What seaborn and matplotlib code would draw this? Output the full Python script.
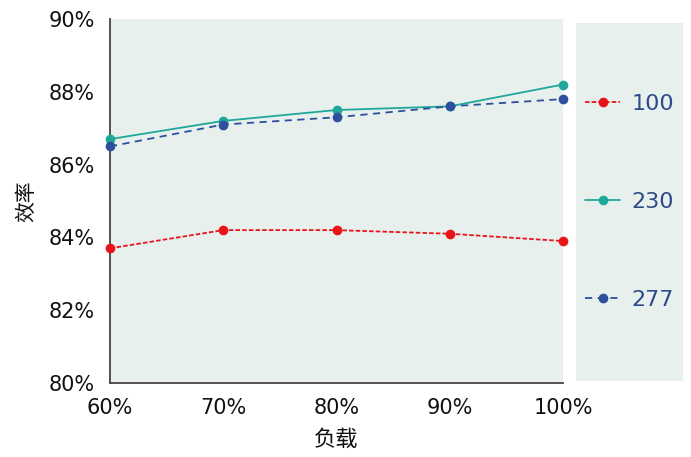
import matplotlib
matplotlib.use("Agg")
import matplotlib.pyplot as plt
import seaborn as sns
import pandas as pd
from matplotlib.lines import Line2D

# Data
loads = [60, 70, 80, 90, 100]
load_labels = ["60%", "70%", "80%", "90%", "100%"]
eff_100 = [83.7, 84.2, 84.2, 84.1, 83.9]
eff_230 = [86.7, 87.2, 87.5, 87.6, 88.2]
eff_277 = [86.5, 87.1, 87.3, 87.6, 87.8]
series_names = ["100", "230", "277"]
y_ticks = [80, 82, 84, 86, 88, 90]
y_tick_labels = ["80%", "82%", "84%", "86%", "88%", "90%"]

sns.set_theme(style="white")
plt.rcParams['font.family'] = ['DejaVu Sans', 'Noto Sans CJK SC']

bg = "#e8f0ed"
colors = {"100": "#e8141a", "230": "#1fa89a", "277": "#2d4f9e"}
styles = {"100": (0, (2.5, 1.2)), "230": "-", "277": (0, (4, 3))}

fig = plt.figure(figsize=(6.91, 4.57), dpi=100)
ax = fig.add_axes([110/691, 1-383/457, (563-110)/691, (383-19)/457])
ax.set_facecolor(bg)

df = pd.DataFrame({
    "load": loads * 3,
    "eff": eff_100 + eff_230 + eff_277,
    "series": [series_names[0]]*5 + [series_names[1]]*5 + [series_names[2]]*5,
})

for name in ["100", "230", "277"]:
    sub = df[df["series"] == name]
    sns.lineplot(data=sub, x="load", y="eff", ax=ax, color=colors[name],
                 linestyle=styles[name], linewidth=1.3, marker="o",
                 markersize=7, markeredgewidth=0, clip_on=False, zorder=3)

ax.set_xlim(60, 100)
ax.set_ylim(80, 90)
ax.set_xticks(loads)
ax.set_xticklabels(load_labels)
ax.set_yticks(y_ticks)
ax.set_yticklabels(y_tick_labels)
for s in ["top", "right"]:
    ax.spines[s].set_visible(False)
for s in ["left", "bottom"]:
    ax.spines[s].set_color("#444444")
    ax.spines[s].set_linewidth(1.3)
ax.tick_params(axis="both", direction="in", length=6, width=1.2, color="#444444",
               labelsize=15, labelcolor="#111111")
ax.tick_params(axis="y", pad=11)
ax.tick_params(axis="x", pad=11)
ax.set_xlabel("负载", fontsize=16, family=['Noto Sans CJK SC'], labelpad=7, color="#111111")
ax.set_ylabel("效率", fontsize=15, family=['Noto Sans CJK SC'], labelpad=8, color="#111111")

# Legend panel
lax = fig.add_axes([576/691, 1-381/457, (683-576)/691, (381-23)/457])
lax.set_facecolor(bg)
lax.set_xticks([]); lax.set_yticks([])
for s in lax.spines.values():
    s.set_visible(False)
handles = [Line2D([0], [0], color=colors[n], linestyle=styles[n], linewidth=1.3,
                  marker="o", markersize=7, markeredgewidth=0) for n in series_names]
leg = lax.legend(handles, series_names, loc="center", frameon=False,
                 fontsize=16, labelspacing=3.5, handlelength=1.6,
                 handletextpad=0.5, borderaxespad=0)
for t in leg.get_texts():
    t.set_color("#2e4a8a")

fig.savefig("out.png", dpi=100)
